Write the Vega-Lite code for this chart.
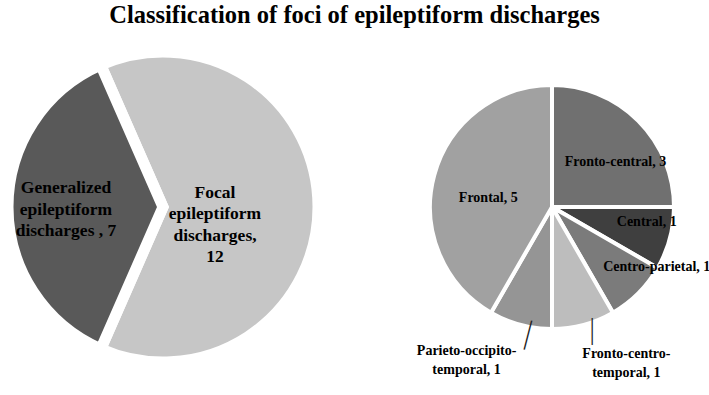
{
  "$schema": "https://vega.github.io/schema/vega-lite/v6.json",
  "width": 709,
  "height": 330,
  "autosize": {"type": "none"},
  "padding": {"top": 42, "left": 0, "right": 0, "bottom": 23},
  "background": "white",
  "title": {
    "text": "Classification of foci of epileptiform discharges",
    "font": "Liberation Serif",
    "fontSize": 24.5,
    "fontWeight": "bold",
    "color": "#000000",
    "anchor": "middle",
    "offset": 2
  },
  "config": {"view": {"stroke": null}},
  "datasets": {
    "main": [
      {"pie": "main", "name": "Focal epileptiform discharges", "count": 12, "rank": 1, "label": "Focal\nepileptiform\ndischarges,\n12"},
      {"pie": "main", "name": "Generalized epileptiform discharges", "count": 7, "rank": 2, "label": "Generalized\nepileptiform\ndischarges , 7"}
    ],
    "detail": [
      {"pie": "detail", "name": "Fronto-central", "count": 3, "rank": 1, "label": "Fronto-central, 3"},
      {"pie": "detail", "name": "Central", "count": 1, "rank": 2, "label": "Central, 1"},
      {"pie": "detail", "name": "Centro-parietal", "count": 1, "rank": 3, "label": "Centro-parietal, 1"},
      {"pie": "detail", "name": "Fronto-centro-temporal", "count": 1, "rank": 4, "label": "Fronto-centro-\ntemporal, 1"},
      {"pie": "detail", "name": "Parieto-occipito-temporal", "count": 1, "rank": 5, "label": "Parieto-occipito-\ntemporal, 1"},
      {"pie": "detail", "name": "Frontal", "count": 5, "rank": 6, "label": "Frontal, 5"}
    ]
  },
  "layer": [
    {
      "data": {"name": "main"},
      "mark": {"type": "arc", "radius": 155, "stroke": "white", "strokeWidth": 11},
      "encoding": {
        "x": {"field": "pie", "type": "nominal", "scale": {"type": "point", "domain": ["main", "detail"], "range": [163, 552], "padding": 0}, "axis": null},
        "theta": {"field": "count", "type": "quantitative", "stack": true, "scale": {"range": [-0.4136, 5.8696]}},
        "order": {"field": "rank"},
        "color": {"field": "name", "type": "nominal", "legend": null,
          "scale": {"domain": ["Focal epileptiform discharges", "Generalized epileptiform discharges", "Fronto-central", "Central", "Centro-parietal", "Fronto-centro-temporal", "Parieto-occipito-temporal", "Frontal"],
                    "range": ["#c6c6c6", "#595959", "#707070", "#3f3f3f", "#7b7b7b", "#bdbdbd", "#959595", "#a1a1a1"]}}
      }
    },
    {
      "data": {"name": "detail"},
      "mark": {"type": "arc", "radius": 122, "stroke": "white", "strokeWidth": 4},
      "encoding": {
        "x": {"field": "pie", "type": "nominal", "axis": null},
        "theta": {"field": "count", "type": "quantitative", "stack": true},
        "order": {"field": "rank"},
        "color": {"field": "name", "type": "nominal", "legend": null}
      }
    },
    {
      "data": {"name": "detail"},
      "mark": {"type": "text", "text": "|", "radius": 136, "dx": 5, "dy": -8, "angle": 0, "font": "DejaVu Sans", "fontWeight": 200, "fontSize": 26, "baseline": "middle", "align": "center", "color": "#222222"},
      "encoding": {
        "x": {"field": "pie", "type": "nominal", "axis": null},
        "theta": {"field": "count", "type": "quantitative", "stack": true},
        "order": {"field": "rank"},
        "detail": {"field": "name"},
        "opacity": {"condition": {"test": "datum.rank === 4", "value": 1}, "value": 0}
      }
    },
    {
      "data": {"name": "detail"},
      "mark": {"type": "text", "text": "|", "radius": 136, "dx": 10, "dy": -7, "angle": 14.5, "font": "DejaVu Sans", "fontWeight": 200, "fontSize": 30, "baseline": "middle", "align": "center", "color": "#222222"},
      "encoding": {
        "x": {"field": "pie", "type": "nominal", "axis": null},
        "theta": {"field": "count", "type": "quantitative", "stack": true},
        "order": {"field": "rank"},
        "detail": {"field": "name"},
        "opacity": {"condition": {"test": "datum.rank === 5", "value": 1}, "value": 0}
      }
    },
    {
      "data": {"name": "main"},
      "mark": {"type": "text", "radius": 97, "dy": -19, "font": "Liberation Serif", "fontSize": 17.5, "fontWeight": "bold", "lineBreak": "\n", "lineHeight": 21.5, "baseline": "middle", "align": "center", "color": "#000000"},
      "encoding": {
        "x": {"field": "pie", "type": "nominal", "axis": null},
        "theta": {"field": "count", "type": "quantitative", "stack": true, "scale": {"range": [-0.4136, 5.8696]}},
        "order": {"field": "rank"},
        "detail": {"field": "name"},
        "text": {"field": "label"},
        "opacity": {"condition": {"test": "datum.rank === 2", "value": 1}, "value": 0}
      }
    },
    {
      "data": {"name": "main"},
      "mark": {"type": "text", "radius": 52, "dy": -14, "font": "Liberation Serif", "fontSize": 17.5, "fontWeight": "bold", "lineBreak": "\n", "lineHeight": 21.5, "baseline": "middle", "align": "center", "color": "#000000"},
      "encoding": {
        "x": {"field": "pie", "type": "nominal", "axis": null},
        "theta": {"field": "count", "type": "quantitative", "stack": true, "scale": {"range": [-0.4136, 5.8696]}},
        "order": {"field": "rank"},
        "detail": {"field": "name"},
        "text": {"field": "label"},
        "opacity": {"condition": {"test": "datum.rank === 1", "value": 1}, "value": 0}
      }
    },
    {
      "data": {"name": "detail"},
      "mark": {"type": "text", "radius": 77, "dx": 9, "dy": 9, "font": "Liberation Serif", "fontSize": 14, "fontWeight": "bold", "lineBreak": "\n", "lineHeight": 19, "baseline": "middle", "align": "center", "color": "#000000"},
      "encoding": {
        "x": {"field": "pie", "type": "nominal", "axis": null},
        "theta": {"field": "count", "type": "quantitative", "stack": true},
        "order": {"field": "rank"},
        "detail": {"field": "name"},
        "text": {"field": "label"},
        "opacity": {"condition": {"test": "datum.name === 'Fronto-central'", "value": 1}, "value": 0}
      }
    },
    {
      "data": {"name": "detail"},
      "mark": {"type": "text", "radius": 96, "dx": 2, "dy": -10, "font": "Liberation Serif", "fontSize": 14, "fontWeight": "bold", "lineBreak": "\n", "lineHeight": 19, "baseline": "middle", "align": "center", "color": "#000000"},
      "encoding": {
        "x": {"field": "pie", "type": "nominal", "axis": null},
        "theta": {"field": "count", "type": "quantitative", "stack": true},
        "order": {"field": "rank"},
        "detail": {"field": "name"},
        "text": {"field": "label"},
        "opacity": {"condition": {"test": "datum.name === 'Central'", "value": 1}, "value": 0}
      }
    },
    {
      "data": {"name": "detail"},
      "mark": {"type": "text", "radius": 110, "dx": 27, "dy": -18, "font": "Liberation Serif", "fontSize": 14, "fontWeight": "bold", "lineBreak": "\n", "lineHeight": 19, "baseline": "middle", "align": "center", "color": "#000000"},
      "encoding": {
        "x": {"field": "pie", "type": "nominal", "axis": null},
        "theta": {"field": "count", "type": "quantitative", "stack": true},
        "order": {"field": "rank"},
        "detail": {"field": "name"},
        "text": {"field": "label"},
        "opacity": {"condition": {"test": "datum.name === 'Centro-parietal'", "value": 1}, "value": 0}
      }
    },
    {
      "data": {"name": "detail"},
      "mark": {"type": "text", "radius": 66, "dy": 8, "font": "Liberation Serif", "fontSize": 14, "fontWeight": "bold", "lineBreak": "\n", "lineHeight": 19, "baseline": "middle", "align": "center", "color": "#000000"},
      "encoding": {
        "x": {"field": "pie", "type": "nominal", "axis": null},
        "theta": {"field": "count", "type": "quantitative", "stack": true},
        "order": {"field": "rank"},
        "detail": {"field": "name"},
        "text": {"field": "label"},
        "opacity": {"condition": {"test": "datum.name === 'Frontal'", "value": 1}, "value": 0}
      }
    },
    {
      "data": {"name": "detail"},
      "mark": {"type": "text", "radius": 160, "dx": 33, "dy": -8, "font": "Liberation Serif", "fontSize": 14, "fontWeight": "bold", "lineBreak": "\n", "lineHeight": 19, "baseline": "middle", "align": "center", "color": "#000000"},
      "encoding": {
        "x": {"field": "pie", "type": "nominal", "axis": null},
        "theta": {"field": "count", "type": "quantitative", "stack": true},
        "order": {"field": "rank"},
        "detail": {"field": "name"},
        "text": {"field": "label"},
        "opacity": {"condition": {"test": "datum.name === 'Fronto-centro-temporal'", "value": 1}, "value": 0}
      }
    },
    {
      "data": {"name": "detail"},
      "mark": {"type": "text", "radius": 160, "dx": -44, "dy": -11, "font": "Liberation Serif", "fontSize": 14, "fontWeight": "bold", "lineBreak": "\n", "lineHeight": 19, "baseline": "middle", "align": "center", "color": "#000000"},
      "encoding": {
        "x": {"field": "pie", "type": "nominal", "axis": null},
        "theta": {"field": "count", "type": "quantitative", "stack": true},
        "order": {"field": "rank"},
        "detail": {"field": "name"},
        "text": {"field": "label"},
        "opacity": {"condition": {"test": "datum.name === 'Parieto-occipito-temporal'", "value": 1}, "value": 0}
      }
    }
  ],
  "resolve": {"scale": {"theta": "independent"}}
}
